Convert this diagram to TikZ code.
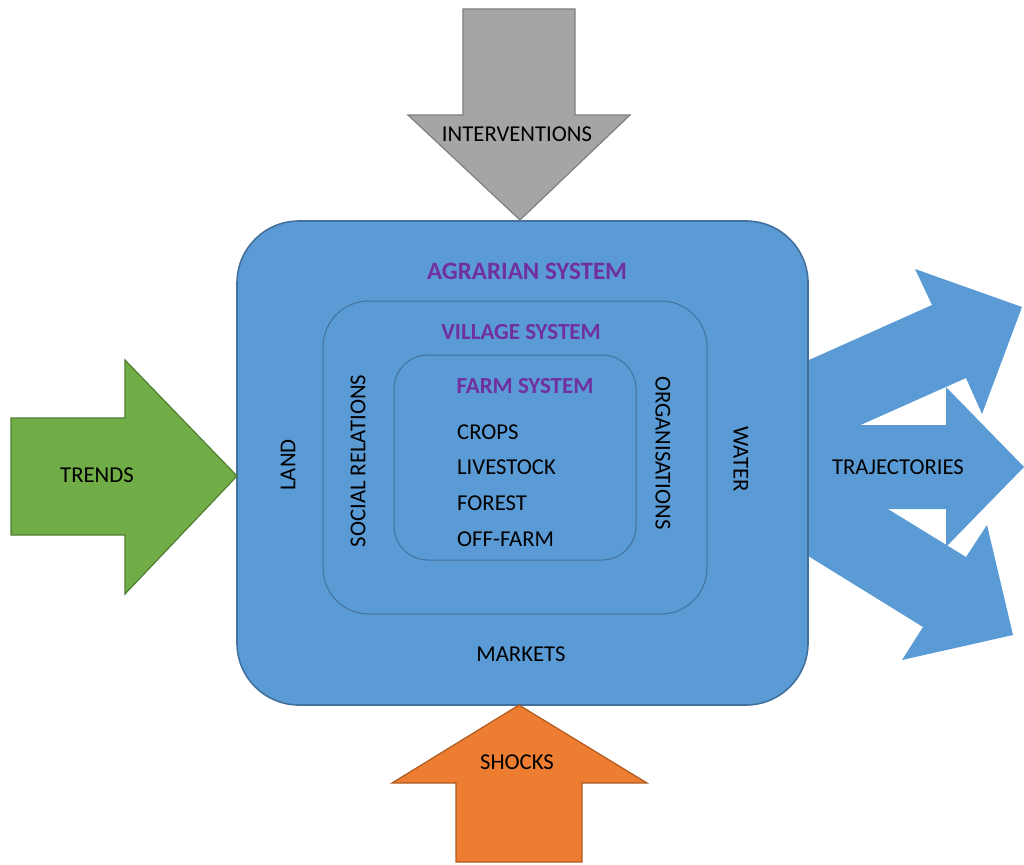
\documentclass[tikz,border=0pt]{standalone}
\usepackage{fontspec}
\setmainfont{Carlito}
\usepackage{tikz}
\usetikzlibrary{calc,positioning}
\usepackage{xcolor}

\definecolor{sysblue}{HTML}{5B9BD5}
\definecolor{sysedge}{HTML}{41719C}
\definecolor{intgrey}{HTML}{A5A5A5}
\definecolor{intedge}{HTML}{7F7F7F}
\definecolor{trendgreen}{HTML}{70AD47}
\definecolor{trendedge}{HTML}{507E32}
\definecolor{shockorange}{HTML}{ED7D31}
\definecolor{shockedge}{HTML}{AE5A21}
\definecolor{titlepurple}{HTML}{7030A0}

\tikzset{
    sysbox/.style={draw=sysedge, fill=sysblue, line width=1pt, inner sep=0pt},
    lbl/.style={font=\fontsize{22.7}{27}\selectfont, text=black, inner sep=1pt},
    ttl/.style={font=\fontsize{23}{27}\selectfont\bfseries, text=titlepurple, inner sep=1pt},
    bigarrow/.style={line width=1.2pt, line join=miter}
}

\begin{document}
\begin{tikzpicture}[x=1pt,y=-1pt]
    \useasboundingbox (0,0) rectangle (1024,864);

    % Draw the three trajectory arrows (behind the system box)
    \fill[sysblue] (800,364) -- (932,305) -- (915,269) -- (1022,307) -- (982,414) -- (966,378) -- (800,452) -- cycle;
    \fill[sysblue] (800,455) -- (966,557) -- (987,525) -- (1013,635) -- (902,660) -- (923,627) -- (800,551) -- cycle;
    \fill[sysblue] (800,425) -- (946,425) -- (946,387) -- (1024,467) -- (946,547) -- (946,509) -- (800,509) -- cycle;

    % Draw the nested systems
    \node[sysbox, line width=1.6pt, minimum width=571pt, minimum height=484pt, rounded corners=62pt] (agrarian) at (522.5,463) {};
    \node[sysbox, minimum width=384pt, minimum height=313pt, rounded corners=46pt] (village) at (515,457.5) {};
    \node[sysbox, minimum width=242pt, minimum height=205pt, rounded corners=34pt] (farm) at (515,457.5) {};

    % Draw the incoming arrows
    \draw[bigarrow, draw=intedge, fill=intgrey] (463,9) -- (575,9) -- (575,115) -- (630,115) -- (520,220) -- (408,115) -- (463,115) -- cycle;
    \draw[bigarrow, draw=trendedge, fill=trendgreen] (11,418) -- (125,418) -- (125,360) -- (237,476) -- (125,594) -- (125,535) -- (11,535) -- cycle;
    \draw[bigarrow, draw=shockedge, fill=shockorange] (519,705) -- (647,783) -- (582,783) -- (582,862) -- (456,862) -- (456,783) -- (392,783) -- cycle;

    % Arrow labels
    \node[lbl] (interventions) at (517,134) {INTERVENTIONS};
    \node[lbl] (trends) at (97,475) {TRENDS};
    \node[lbl] (shocks) at (517,762) {SHOCKS};
    \node[lbl] (trajectories) at (898,467) {TRAJECTORIES};

    % System titles
    \node[ttl, font=\fontsize{25}{30}\selectfont\bfseries] (agrariantitle) at (527,271) {AGRARIAN SYSTEM};
    \node[ttl] (villagetitle) at (521,332) {VILLAGE SYSTEM};
    \node[ttl] (farmtitle) at (525,386) {FARM SYSTEM};

    % Contents of the farm system
    \foreach \t [count=\i] in {CROPS,LIVESTOCK,FOREST,OFF-FARM} {
        \node[lbl, anchor=west] (farm\i) at (456,{432+35.7*(\i-1)}) {\t};
    }

    % Side labels
    \node[lbl, rotate=90] (land) at (288,465) {LAND};
    \node[lbl, rotate=90] (social) at (358,461) {SOCIAL RELATIONS};
    \node[lbl, rotate=-90] (organisations) at (663,453) {ORGANISATIONS};
    \node[lbl, rotate=-90] (water) at (741,459) {WATER};
    \node[lbl] (markets) at (521,654) {MARKETS};

\end{tikzpicture}
\end{document}
